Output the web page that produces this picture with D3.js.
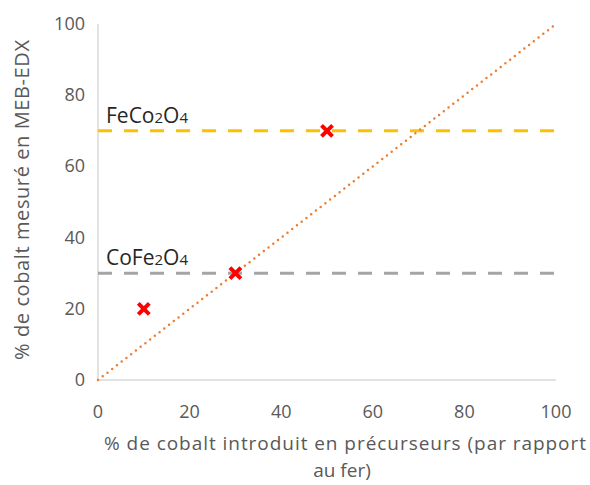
<!DOCTYPE html>
<html>
<head>
<meta charset="utf-8">
<script src="https://cdn.jsdelivr.net/npm/d3@7"></script>
<style>
  body { margin: 0; background: #fff; }
  text { font-family: "Open Sans", sans-serif; }
</style>
</head>
<body>
<svg id="chart" width="590" height="485"></svg>
<script>
// données
const xTicks = [0, 20, 40, 60, 80, 100];
const yTicks = [0, 20, 40, 60, 80, 100];
const mesures = [[10, 20], [30, 30], [50, 70]];
const diagonale = [[0, 0], [100, 100]];
const phases = [
  { nom: "FeCo", sub1: "2", mid: "O", sub2: "4", y: 70, color: "#ffc000" },
  { nom: "CoFe", sub1: "2", mid: "O", sub2: "4", y: 30, color: "#a5a5a5" }
];

const svg = d3.select("#chart");
const x = d3.scaleLinear().domain([0, 100]).range([98, 556]);
const y = d3.scaleLinear().domain([0, 100]).range([380, 24]);

// axes
svg.append("line").attr("x1", x(0)).attr("x2", x(0)).attr("y1", y(0)).attr("y2", y(100))
  .attr("stroke", "#d9d9d9").attr("stroke-width", 1.5);
svg.append("line").attr("x1", x(0)).attr("x2", x(100)).attr("y1", y(0)).attr("y2", y(0))
  .attr("stroke", "#d9d9d9").attr("stroke-width", 1.5);

svg.selectAll(".ytick").data(yTicks).enter().append("text")
  .attr("x", 85).attr("y", d => y(d) + 6).attr("text-anchor", "end")
  .attr("font-size", 18).attr("fill", "#595959").text(d => d);
svg.selectAll(".xtick").data(xTicks).enter().append("text")
  .attr("x", d => x(d)).attr("y", 418).attr("text-anchor", "middle")
  .attr("font-size", 18).attr("fill", "#595959").text(d => d);

svg.append("text").attr("transform", "translate(29,200) rotate(-90)")
  .attr("text-anchor", "middle").attr("font-size", 20).attr("fill", "#595959")
  .attr("textLength", 320).attr("lengthAdjust", "spacing")
  .text("% de cobalt mesuré en MEB-EDX");
svg.append("text").attr("x", 345).attr("y", 450).attr("text-anchor", "middle")
  .attr("font-size", 19).attr("fill", "#595959")
  .attr("textLength", 482).attr("lengthAdjust", "spacing")
  .text("% de cobalt introduit en précurseurs (par rapport");
svg.append("text").attr("x", 342).attr("y", 477).attr("text-anchor", "middle")
  .attr("font-size", 19).attr("fill", "#595959").text("au fer)");

// lignes de phase
phases.forEach(p => {
  svg.append("line").attr("x1", x(0)).attr("x2", x(100)).attr("y1", y(p.y)).attr("y2", y(p.y))
    .attr("stroke", p.color).attr("stroke-width", 3).attr("stroke-dasharray", "14,12");
  const t = svg.append("text").attr("x", 106).attr("y", y(p.y) - 8)
    .attr("font-size", 21).attr("fill", "#262626");
  t.append("tspan").text(p.nom);
  t.append("tspan").attr("font-size", 15).text(p.sub1);
  t.append("tspan").text(p.mid);
  t.append("tspan").attr("font-size", 15).text(p.sub2);
});

// diagonale
svg.append("path").datum(diagonale)
  .attr("d", d3.line().x(d => x(d[0])).y(d => y(d[1])))
  .attr("stroke", "#ed7d31").attr("stroke-width", 2.5).attr("fill", "none")
  .attr("stroke-dasharray", "0,6").attr("stroke-linecap", "round");

// points
svg.selectAll(".pt").data(mesures).enter().append("path")
  .attr("transform", d => `translate(${x(d[0])},${y(d[1])})`)
  .attr("d", "M-5.5,-5.5L5.5,5.5M-5.5,5.5L5.5,-5.5")
  .attr("stroke", "#ff0000").attr("stroke-width", 4).attr("fill", "none");
</script>
</body>
</html>
